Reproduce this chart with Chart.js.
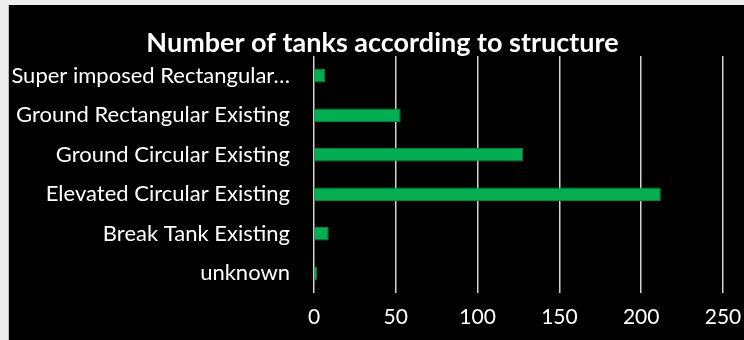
<!DOCTYPE html>
<html>
<head>
<meta charset="utf-8">
<script src="https://cdn.jsdelivr.net/npm/chart.js@4"></script>
<style>
html,body{margin:0;padding:0;background:#ededed;width:744px;height:340px;overflow:hidden;}
#wrap{position:absolute;left:8px;top:5px;width:736px;height:335px;background:#000;border-left:1px solid #bdbdbd;box-sizing:border-box;}
#wrap canvas{position:absolute;left:0;top:0;}
</style>
</head>
<body>
<div id="wrap"><canvas id="c" width="735" height="335"></canvas></div>
<script>
const titleText = "Number of tanks according to structure";
const categories = [
  "Super imposed Rectangular\u2026",
  "Ground Rectangular Existing",
  "Ground Circular Existing",
  "Elevated Circular Existing",
  "Break Tank Existing",
  "unknown"
];
const tankCounts = [7, 53, 128, 212, 9, 2];
const axisMin = 0;
const axisMax = 250;
const axisStep = 50;

const FONT = "Lato, 'Open Sans', sans-serif";

const titlePlugin = {
  id: 'excelTitle',
  afterDraw(chart) {
    const ctx = chart.ctx;
    ctx.save();
    ctx.fillStyle = '#ffffff';
    ctx.font = "bold 27px " + FONT;
    ctx.textAlign = 'center';
    ctx.textBaseline = 'alphabetic';
    ctx.fillText(titleText, chart.width / 2 + 6, 47);
    ctx.restore();
  }
};

new Chart(document.getElementById('c'), {
  type: 'bar',
  data: {
    labels: categories,
    datasets: [{
      data: tankCounts,
      backgroundColor: '#00B050',
      borderColor: '#00873c',
      borderWidth: 1,
      barPercentage: 0.345,
      categoryPercentage: 1
    }]
  },
  options: {
    indexAxis: 'y',
    responsive: false,
    animation: false,
    events: [],
    layout: { padding: { left: 0, right: 21, top: 51, bottom: 0 } },
    plugins: {
      legend: { display: false },
      tooltip: { enabled: false },
      title: { display: false }
    },
    scales: {
      x: {
        min: axisMin,
        max: axisMax,
        ticks: { stepSize: axisStep, color: '#ffffff', font: { family: FONT, size: 21 }, padding: 12 },
        grid: { color: '#d4d4d4', lineWidth: 1.5, drawTicks: false },
        border: { display: false },
        afterFit: (s) => { s.height = 47; s.paddingLeft = 0; s.paddingRight = 0; }
      },
      y: {
        ticks: { color: '#ffffff', font: { family: FONT, size: 22 }, padding: 24 },
        grid: { display: false, drawTicks: false },
        border: { display: false },
        afterFit: (s) => { s.width = 305; s.paddingTop = 0; s.paddingBottom = 0; }
      }
    }
  },
  plugins: [titlePlugin]
});
</script>
</body>
</html>
